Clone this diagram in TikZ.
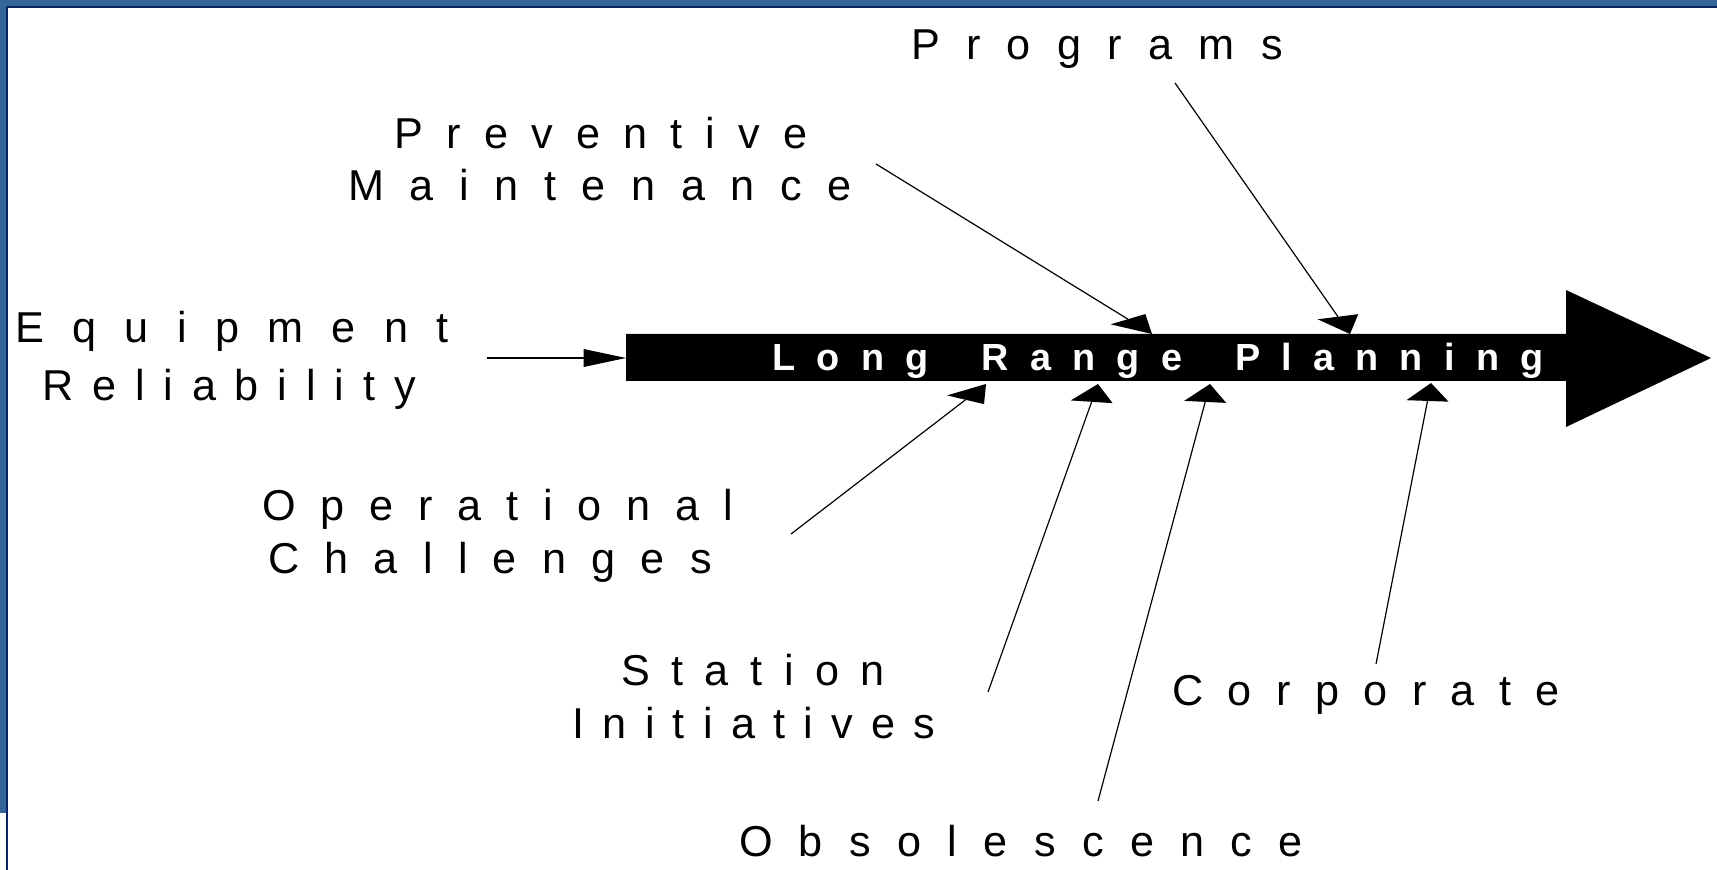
\documentclass[tikz,border=0pt]{standalone}
\usepackage{fontspec}
\setmainfont{Liberation Sans}
\usetikzlibrary{calc}
\definecolor{frameblue}{RGB}{51,102,153}
\definecolor{framenavy}{RGB}{10,36,99}
\newlength\spnat \newlength\spgap \newcount\spn
\def\spcount#1{\ifx#1\relax\else\advance\spn by 1 \expandafter\spcount\fi}
\def\spout#1{\ifx#1\relax\else\hspace{\spgap}#1\expandafter\spout\fi}
\def\spfirst#1{#1\spout}
\newcommand\spread[2]{\settowidth\spnat{#2}\spn=0 \spcount#2\relax\advance\spn by -1 \spgap=\dimexpr(#1-\spnat)/\spn\relax\spfirst#2\relax}
\def\sx{2.35}\def\hl{9pt}\def\hw{4.5pt}
\newcommand\linkarrow[2]{%
  \draw[conn] let \p1=(#1), \p2=(#2), \n1={atan2(\y2-\y1,(\x2-\x1)/\sx)} in
    (\p1) -- ({\x2-\sx*\hl*cos(\n1)},{\y2-\hl*sin(\n1)});
  \fill let \p1=(#1), \p2=(#2), \n1={atan2(\y2-\y1,(\x2-\x1)/\sx)} in
    (\p2) -- ({\x2-\sx*\hl*cos(\n1)-\sx*\hw*sin(\n1)},{\y2-\hl*sin(\n1)+\hw*cos(\n1)})
    -- ({\x2-\sx*\hl*cos(\n1)+\sx*\hw*sin(\n1)},{\y2-\hl*sin(\n1)-\hw*cos(\n1)}) -- cycle;}
\tikzset{
  lbl/.style={font=\fontsize{21.6pt}{26pt}\selectfont, inner sep=0pt, anchor=base, text=black},
  title/.style={font=\fontsize{18.9pt}{22pt}\selectfont\bfseries, inner sep=0pt, anchor=base, text=white},
  conn/.style={line width=0.6pt, black}
}
\begin{document}
\begin{tikzpicture}[x=0.5pt,y=-0.5pt]
\useasboundingbox (0,0) rectangle (1717,870);
% frame
\fill[frameblue] (0,0) rectangle (1717,6);
\fill[frameblue] (0,0) rectangle (6,813);
\fill[framenavy] (6,6) rectangle (1717,8);
\fill[framenavy] (6,6) rectangle (8,870);
% main arrow
\fill[black] (626,334) -- (1566,334) -- (1566,290) -- (1711,358) -- (1566,427) -- (1566,381) -- (626,381) -- cycle;
\node[title] (lrp) at (1158,371) {\spread{385.5pt}{Long\ Range\ Planning}};
% labels
\node[lbl] (prog)  at (1097,60)  {\spread{186pt}{Programs}};
\node[lbl] (prev1) at (601,149)  {\spread{206.5pt}{Preventive}};
\node[lbl] (prev2) at (600,201)  {\spread{252pt}{Maintenance}};
\node[lbl] (eq1)   at (232,343)  {\spread{216.5pt}{Equipment}};
\node[lbl] (eq2)   at (229,401)  {\spread{187pt}{Reliability}};
\node[lbl] (op1)   at (498,521)  {\spread{235.5pt}{Operational}};
\node[lbl] (op2)   at (490,574)  {\spread{222pt}{Challenges}};
\node[lbl] (st1)   at (753,685)  {\spread{132pt}{Station}};
\node[lbl] (st2)   at (754,738)  {\spread{181.5pt}{Initiatives}};
\node[lbl] (obs)   at (1021,856) {\spread{282pt}{Obsolescence}};
\node[lbl] (corp)  at (1366,705) {\spread{194pt}{Corporate}};
% connector ends
\coordinate (eqS) at (487,358);   \coordinate (eqT) at (626,358);
\coordinate (prevS) at (876,164); \coordinate (prevT) at (1152,334);
\coordinate (progS) at (1175,83); \coordinate (progT) at (1350,334);
\coordinate (opS) at (791,534);   \coordinate (opT) at (986,384);
\coordinate (stS) at (988,692);   \coordinate (stT) at (1098,384);
\coordinate (obsS) at (1098,801); \coordinate (obsT) at (1210,384);
\coordinate (corpS) at (1376,664);\coordinate (corpT) at (1431,383);
\linkarrow{eqS}{eqT}
\linkarrow{prevS}{prevT}
\linkarrow{progS}{progT}
\linkarrow{opS}{opT}
\linkarrow{stS}{stT}
\linkarrow{obsS}{obsT}
\linkarrow{corpS}{corpT}
\end{tikzpicture}
\end{document}
